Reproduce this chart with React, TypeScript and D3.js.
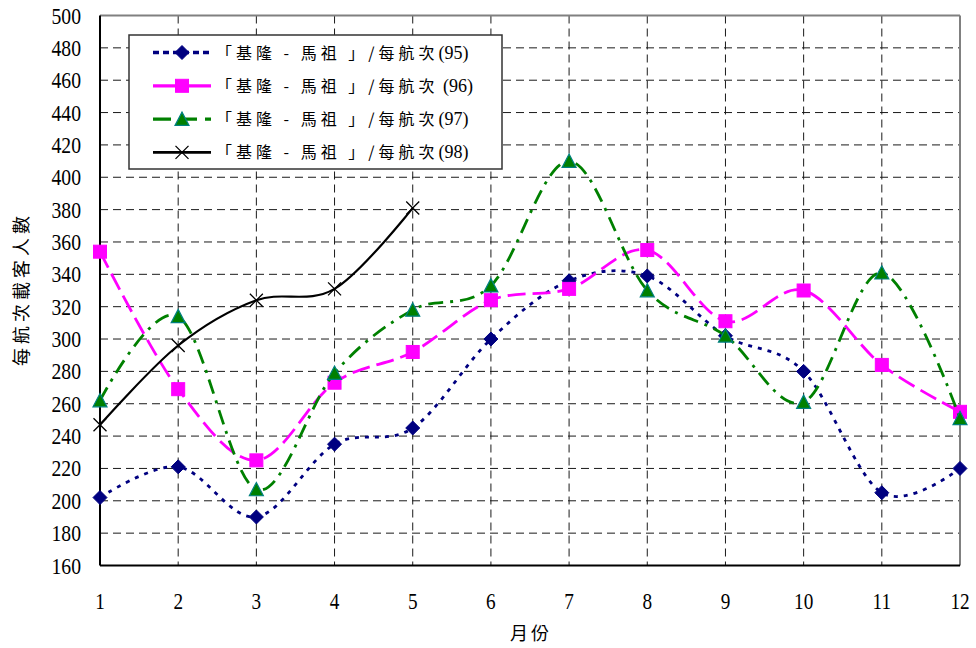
import React from 'react';
import * as d3 from 'd3';

const months = [1, 2, 3, 4, 5, 6, 7, 8, 9, 10, 11, 12];
const yTickValues = [160, 180, 200, 220, 240, 260, 280, 300, 320, 340, 360, 380, 400, 420, 440, 460, 480, 500];
const s95 = [202, 221, 190, 235, 245, 300, 336, 339, 302, 280, 205, 220];
const s96 = [354, 269, 225, 273, 292, 324, 331, 355, 311, 330, 284, 255];
const s97 = [262, 314, 207, 279, 318, 333, 410, 330, 302, 261, 341, 251];
const s98 = [247, 296, 324, 331, 381];
const labelMain = '「基隆 - 馬祖 」/每航次';
const labelYears = ['(95)', ' (96)', '(97)', '(98)'];
const yTitle = '每航次載客人數';
const xTitle = '月份';

const W = 976, H = 648;
const L = 100, R = 960, T = 15.5, B = 565.5;

const x = d3.scaleLinear().domain([1, 12]).range([L, R]);
const y = d3.scaleLinear().domain([160, 500]).range([B, T]);

type Style = { color: string; dash: string; width: number; marker: string; legendDash: string };
const styles: Style[] = [
  { color: '#000080', dash: '4,6', width: 2.8, marker: 'diamond', legendDash: '6,4' },
  { color: '#FF00FF', dash: '18,7', width: 2.8, marker: 'square', legendDash: '' },
  { color: '#008000', dash: '15,7,3,7', width: 2.8, marker: 'triangle', legendDash: '18,8' },
  { color: '#000000', dash: '', width: 2.2, marker: 'x', legendDash: '' },
];
const allSeries = [s95, s96, s97, s98];

function Marker({ kind, cx, cy }: { kind: string; cx: number; cy: number }) {
  if (kind === 'diamond') {
    const r = 7;
    return <path d={`M${cx},${cy - r}L${cx + r},${cy}L${cx},${cy + r}L${cx - r},${cy}Z`} fill="#000080" stroke="#000080" strokeWidth={1} />;
  }
  if (kind === 'square') {
    const r = 6.5;
    return <rect x={cx - r} y={cy - r} width={2 * r} height={2 * r} fill="#FF00FF" stroke="#FF00FF" strokeWidth={1} />;
  }
  if (kind === 'triangle') {
    const r = 7;
    return <path d={`M${cx},${cy - r}L${cx + r},${cy + r * 0.9}L${cx - r},${cy + r * 0.9}Z`} fill="#008000" stroke="#008080" strokeWidth={1.2} />;
  }
  const r = 6.5;
  return <path d={`M${cx - r},${cy - r}L${cx + r},${cy + r}M${cx + r},${cy - r}L${cx - r},${cy + r}`} stroke="#000" strokeWidth={1.3} fill="none" />;
}

export default function App() {
  const line = d3.line<number>().x((_, i) => x(months[i])).y(d => y(d)).curve(d3.curveCatmullRom.alpha(0));
  const serif = "'Liberation Serif', 'Times New Roman', Times, 'DejaVu Serif', serif";
  const cjk = "'Noto Sans CJK TC', 'Noto Sans CJK JP', sans-serif";
  const legendX = 129, legendY = 35, legendW = 373, legendH = 134;
  return (
    <svg width={W} height={H} style={{ position: 'absolute', left: 0, top: 0, background: '#fff' }}>
      <rect x={0} y={0} width={W} height={H} fill="#fff" />
      {yTickValues.filter(v => v > 160 && v < 500).map(v => (
        <line key={'h' + v} x1={L} x2={R} y1={y(v)} y2={y(v)} stroke="#1a1a1a" strokeWidth={1} strokeDasharray="8,5" />
      ))}
      {months.filter(m => m > 1 && m < 12).map(m => (
        <line key={'v' + m} x1={x(m)} x2={x(m)} y1={T} y2={B} stroke="#1a1a1a" strokeWidth={1} strokeDasharray="8,5" />
      ))}
      <line x1={L} x2={R} y1={T} y2={T} stroke="#808080" strokeWidth={2} />
      <line x1={R} x2={R} y1={T} y2={B} stroke="#808080" strokeWidth={2} />
      <line x1={L} x2={L} y1={T} y2={B} stroke="#000" strokeWidth={2} />
      <line x1={L} x2={R} y1={B} y2={B} stroke="#000" strokeWidth={2} />
      {yTickValues.map(v => (
        <g key={'yt' + v} transform={`translate(81,${y(v) + 8}) scale(0.82,1)`}>
          <text x={0} y={0} textAnchor="end" fontFamily={serif} fontSize={24} fill="#000">{v}</text>
        </g>
      ))}
      {months.map(m => (
        <g key={'xt' + m} transform={`translate(${x(m)},${609}) scale(0.8,1)`}>
          <text x={0} y={0} textAnchor="middle" fontFamily={serif} fontSize={24} fill="#000">{m}</text>
        </g>
      ))}
      <text x={531} y={640} textAnchor="middle" fontFamily={cjk} fontSize={18} letterSpacing={3} fill="#000">{xTitle}</text>
      <text transform={`translate(28,289) rotate(-90)`} textAnchor="middle" fontFamily={cjk} fontSize={18} letterSpacing={4} fill="#000">{yTitle}</text>
      {allSeries.map((s, si) => (
        <g key={'s' + si}>
          <path d={line(s) || ''} fill="none" stroke={styles[si].color} strokeWidth={styles[si].width} strokeDasharray={styles[si].dash} />
          {s.map((v, i) => <Marker key={i} kind={styles[si].marker} cx={x(months[i])} cy={y(v)} />)}
        </g>
      ))}
      <rect x={legendX} y={legendY} width={legendW} height={legendH} fill="#fff" stroke="#333" strokeWidth={1.5} />
      {labelYears.map((yr, i) => {
        const cy = 52.5 + i * 33.3;
        return (
          <g key={'lg' + i}>
            <line x1={153} x2={211} y1={cy} y2={cy} stroke={styles[i].color} strokeWidth={styles[i].width + 0.5} strokeDasharray={styles[i].legendDash} />
            <Marker kind={styles[i].marker} cx={182} cy={cy} />
            <text x={216} y={cy + 6} fontSize={16} fill="#000" style={{ whiteSpace: 'pre' }}>
              <tspan fontFamily={cjk} letterSpacing={4}>{labelMain}</tspan>
              <tspan fontFamily={serif} fontSize={18} letterSpacing={0}>{yr}</tspan>
            </text>
          </g>
        );
      })}
    </svg>
  );
}
